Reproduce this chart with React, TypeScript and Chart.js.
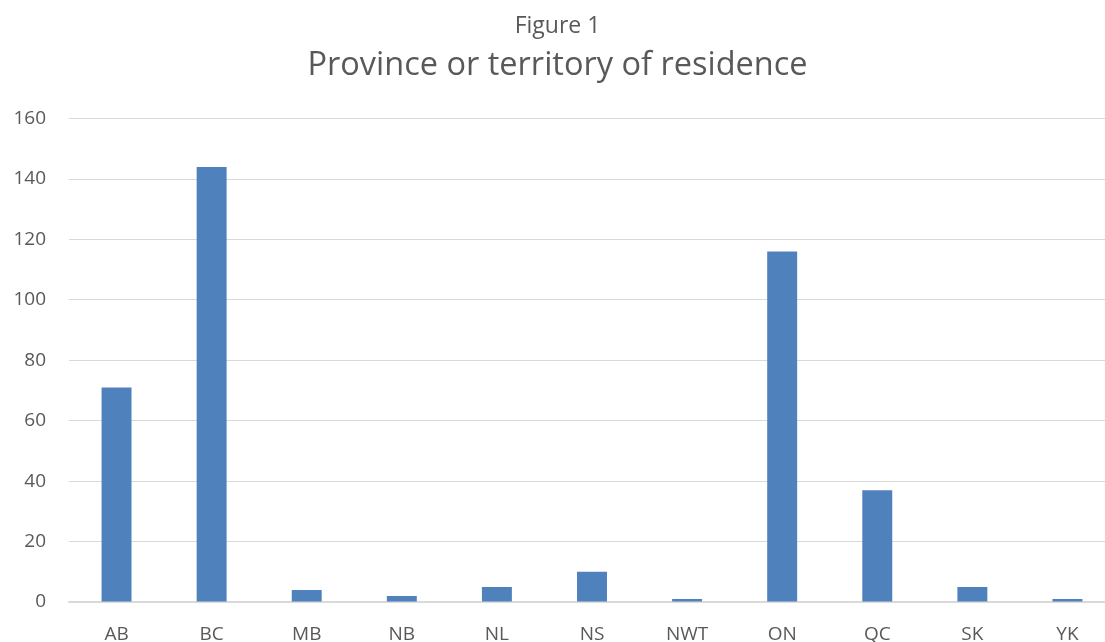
import React, { useEffect, useRef } from "react";
import { Chart, registerables } from "chart.js";

Chart.register(...registerables);

const categories = ["AB", "BC", "MB", "NB", "NL", "NS", "NWT", "ON", "QC", "SK", "YK"];
const values = [71, 144, 4, 2, 5, 10, 1, 116, 37, 5, 1];
const yTicks = [0, 20, 40, 60, 80, 100, 120, 140, 160];
const figureLabel = "Figure 1";
const chartTitle = "Province or territory of residence";

const FONT = "'Open Sans', 'DejaVu Sans', sans-serif";
const TEXT = "#595959";
const GRID = "#D9D9D9";
const BAR = "#4F81BD";

export default function App() {
  const ref = useRef<HTMLCanvasElement | null>(null);

  useEffect(() => {
    if (!ref.current) return;
    const chart = new Chart(ref.current, {
      type: "bar",
      data: {
        labels: categories,
        datasets: [
          {
            data: values,
            backgroundColor: BAR,
            borderWidth: 0,
            barPercentage: 0.315,
            categoryPercentage: 1,
          },
        ],
      },
      options: {
        responsive: false,
        animation: false,
        layout: { padding: { left: 0, right: 20, top: 0, bottom: 0 } },
        plugins: {
          legend: { display: false },
          tooltip: { enabled: false },
          title: {
            display: true,
            text: figureLabel,
            color: TEXT,
            font: { family: FONT, size: 23, weight: "normal", lineHeight: 1.2 },
            padding: { top: 13, bottom: 6 },
          },
          subtitle: {
            display: true,
            text: chartTitle,
            color: TEXT,
            font: { family: FONT, size: 32.5, weight: "normal", lineHeight: 1.2 },
            padding: { top: 0, bottom: 33 },
          },
        },
        scales: {
          x: {
            grid: { display: false, drawTicks: false },
            border: { display: true, color: GRID, width: 1.5 },
            ticks: { color: TEXT, font: { family: FONT, size: 19 }, padding: 21, maxRotation: 0, autoSkip: false },
            afterFit: (s: any) => { s.height = 78; },
          },
          y: {
            min: 0,
            max: 160,
            afterBuildTicks: (s: any) => { s.ticks = yTicks.map((v) => ({ value: v })); },
            grid: { color: GRID, lineWidth: 1, drawTicks: false },
            border: { display: false },
            ticks: { color: TEXT, font: { family: FONT, size: 19 }, padding: 23 },
            afterFit: (s: any) => { s.width = 69; },
          },
        },
      },
    });
    return () => chart.destroy();
  }, []);

  return (
    <div style={{ position: "fixed", left: 0, top: 0, width: 1105, height: 642, overflow: "hidden" }}>
      <canvas ref={ref} width={1135} height={680} style={{ display: "block" }} />
    </div>
  );
}
